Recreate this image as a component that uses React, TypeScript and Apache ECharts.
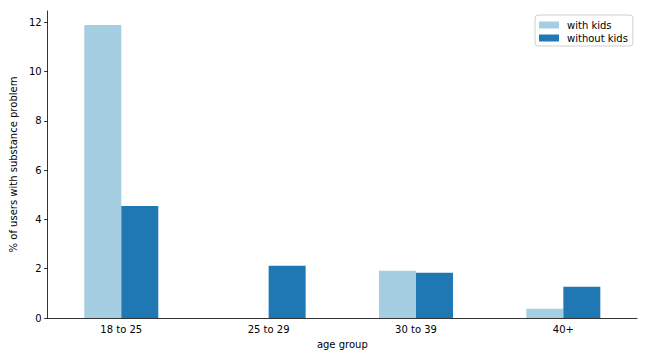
import React, { useEffect, useRef } from "react";
import * as echarts from "echarts";

const categories = ["18 to 25", "25 to 29", "30 to 39", "40+"];
const withKids: (number | null)[] = [11.89, null, 1.92, 0.38];
const withoutKids = [4.55, 2.12, 1.84, 1.27];
const yTicks = [0, 2, 4, 6, 8, 10, 12];

const FONT = "DejaVu Sans";

export default function App() {
  const ref = useRef<HTMLDivElement>(null);
  useEffect(() => {
    if (!ref.current) return;
    const chart = echarts.init(ref.current, undefined, { renderer: "svg" });
    chart.setOption({
      animation: false,
      backgroundColor: "#fff",
      textStyle: { fontFamily: FONT },
      grid: { left: 45, right: 11, top: 11, bottom: 42 },
      legend: {
        orient: "vertical",
        left: 535,
        top: 15,
        icon: "rect",
        itemWidth: 20,
        itemHeight: 7,
        itemGap: 3,
        padding: [5, 5, 3, 4],
        borderColor: "#d0d0d0",
        borderWidth: 1,
        borderRadius: 3,
        backgroundColor: "#fff",
        textStyle: { fontFamily: FONT, fontSize: 10, color: "#000", padding: [0, 0, 0, 3] },
        data: ["with kids", "without kids"],
      },
      xAxis: {
        type: "category",
        data: categories,
        name: "age group",
        nameLocation: "middle",
        nameGap: 21,
        nameTextStyle: { fontFamily: FONT, fontSize: 10, color: "#000" },
        axisLine: { lineStyle: { color: "#000", width: 0.8 } },
        axisTick: { alignWithLabel: true, length: 3.5, lineStyle: { color: "#000", width: 0.8 } },
        axisLabel: { fontFamily: FONT, fontSize: 10, color: "#000", margin: 6 },
        splitLine: { show: false },
      },
      yAxis: {
        type: "value",
        min: 0,
        max: 12.46,
        interval: 2,
        name: "% of users with substance problem",
        nameLocation: "middle",
        nameGap: 26,
        nameTextStyle: { fontFamily: FONT, fontSize: 10, color: "#000" },
        axisLine: { show: true, lineStyle: { color: "#000", width: 0.8 } },
        axisTick: { show: true, length: 3.5, customValues: yTicks, lineStyle: { color: "#000", width: 0.8 } },
        axisLabel: { fontFamily: FONT, fontSize: 10, color: "#000", margin: 6, customValues: yTicks },
        splitLine: { show: false },
      },
      series: [
        {
          name: "with kids",
          type: "bar",
          data: withKids,
          barWidth: 37,
          barGap: "0%",
          itemStyle: { color: "#a6cee3" },
        },
        {
          name: "without kids",
          type: "bar",
          data: withoutKids,
          barWidth: 37,
          barGap: "0%",
          itemStyle: { color: "#1f78b4" },
        },
      ],
    });
    return () => chart.dispose();
  }, []);
  return <div ref={ref} style={{ width: 648, height: 360, position: "absolute", left: 0, top: 0 }} />;
}
